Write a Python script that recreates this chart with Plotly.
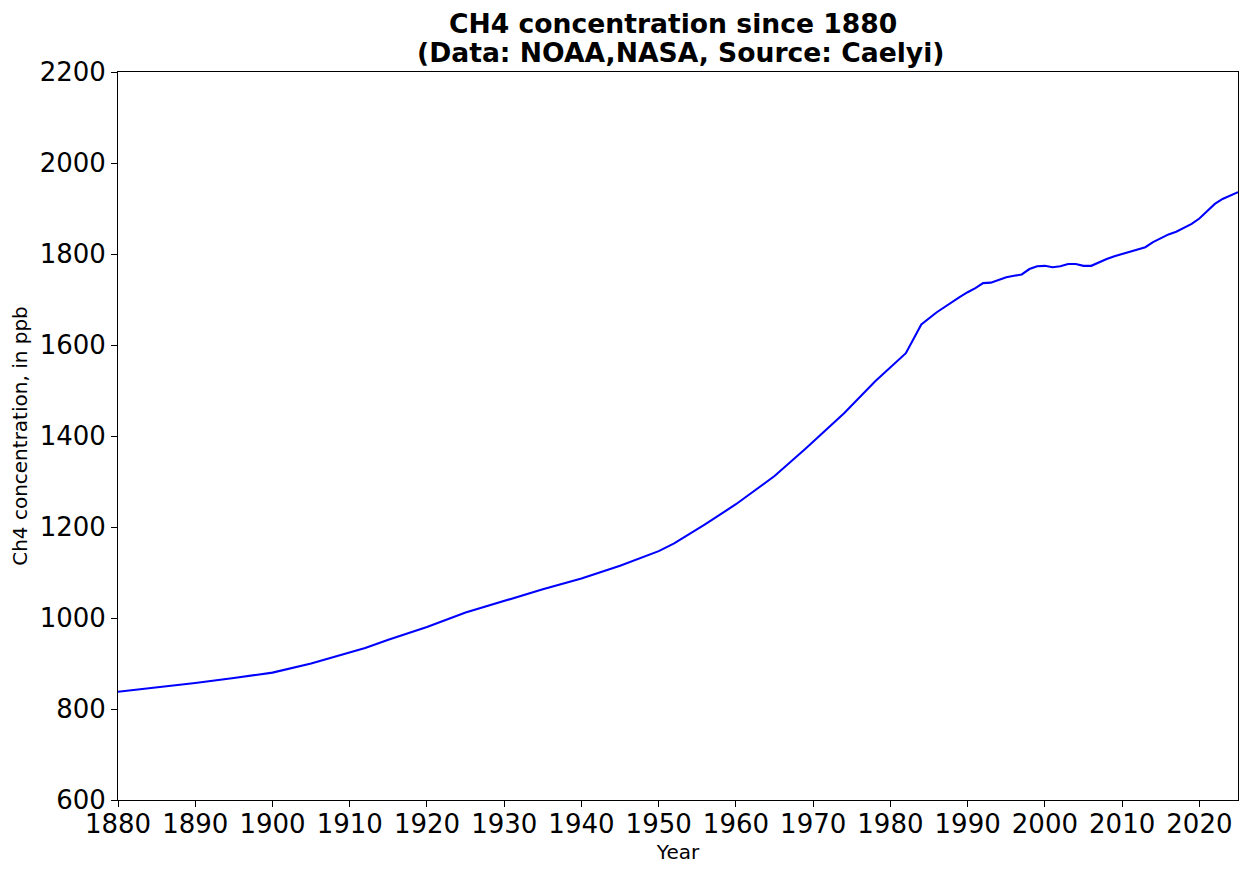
import plotly.graph_objects as go

years = [1880, 1885, 1890, 1895, 1900, 1905, 1910, 1912, 1915, 1920, 1925, 1930, 1935,
         1940, 1945, 1950, 1952, 1956, 1960, 1965, 1969, 1974, 1978, 1982, 1984, 1986,
         1988, 1989, 1990, 1991, 1992, 1993, 1994, 1995, 1996, 1997, 1998, 1999, 2000,
         2001, 2002, 2003, 2004, 2005, 2006, 2007, 2008, 2009, 2010, 2011, 2012, 2013,
         2014, 2015, 2016, 2017, 2018, 2019, 2020, 2021, 2022, 2023, 2024, 2025]
ch4_ppb = [838, 847, 857, 868, 880, 900, 924, 934, 952, 980, 1012, 1038, 1063,
           1087, 1115, 1147, 1164, 1206, 1250, 1312, 1372, 1450, 1520, 1582, 1645, 1672,
           1695, 1706, 1716, 1725, 1736, 1737, 1743, 1749, 1752, 1755, 1767, 1773, 1774,
           1771, 1773, 1778, 1778, 1774, 1774, 1782, 1789, 1795, 1800, 1805, 1810, 1815,
           1826, 1835, 1843, 1849, 1857, 1866, 1878, 1895, 1910, 1921, 1929, 1936]

x_ticks = list(range(1880, 2021, 10))
y_ticks = list(range(600, 2201, 200))

title_lines = ["CH4 concentration since 1880", "(Data: NOAA,NASA, Source: Caelyi)"]

FONT = "DejaVu Sans"

fig = go.Figure()
fig.add_trace(go.Scatter(x=years, y=ch4_ppb, mode="lines",
                         line=dict(color="#0000ff", width=2.1), showlegend=False))

axis_common = dict(showgrid=False, zeroline=False, showline=True, linecolor="black",
                   linewidth=1, mirror=True, ticks="outside", ticklen=6, tickwidth=1,
                   tickcolor="black", tickfont=dict(family=FONT, size=26, color="black"))

fig.update_xaxes(range=[1880, 2025], tickvals=x_ticks, ticktext=[str(t) for t in x_ticks],
                 ticklabelstandoff=-5,
                 title=dict(text="Year", font=dict(family=FONT, size=20, color="black"),
                            standoff=6), **axis_common)
fig.update_yaxes(range=[600, 2200], tickvals=y_ticks, ticktext=[str(t) for t in y_ticks],
                 title=dict(text="Ch4 concentration, in ppb",
                            font=dict(family=FONT, size=20, color="black"), standoff=6),
                 **axis_common)

fig.update_layout(
    width=1250, height=875,
    margin=dict(l=110, r=20, t=64, b=83),
    plot_bgcolor="white", paper_bgcolor="white",
    font=dict(family=FONT, color="black"),
)

for text, ys, xs in zip(title_lines, [30.5, 2], [-5.5, 2]):
    fig.add_annotation(text="<b>" + text + "</b>", xref="paper", yref="paper",
                       x=0.5, y=1, xanchor="center", yanchor="bottom",
                       xshift=xs, yshift=ys, showarrow=False,
                       font=dict(family=FONT, size=26.6, color="black"))

fig.write_html("out.html")
